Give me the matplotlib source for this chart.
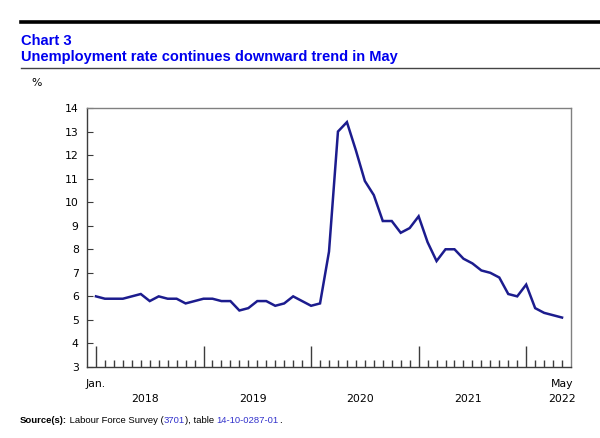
import matplotlib
matplotlib.use("Agg")
import matplotlib.pyplot as plt
import matplotlib.transforms as mtransforms
from matplotlib.lines import Line2D
import numpy as np

# monthly unemployment rate, Jan. 2018 to May 2022 (%)
rate_2018 = [6.0, 5.9, 5.9, 5.9, 6.0, 6.1, 5.8, 6.0, 5.9, 5.9, 5.7, 5.8]
rate_2019 = [5.9, 5.9, 5.8, 5.8, 5.4, 5.5, 5.8, 5.8, 5.6, 5.7, 6.0, 5.8]
rate_2020 = [5.6, 5.7, 7.9, 13.0, 13.4, 12.2, 10.9, 10.3, 9.2, 9.2, 8.7, 8.9]
rate_2021 = [9.4, 8.3, 7.5, 8.0, 8.0, 7.6, 7.4, 7.1, 7.0, 6.8, 6.1, 6.0]
rate_2022 = [6.5, 5.5, 5.3, 5.2, 5.1]
years = ["2018", "2019", "2020", "2021", "2022"]

rates = rate_2018 + rate_2019 + rate_2020 + rate_2021 + rate_2022
months = np.arange(len(rates))

line_col = "#1c1c8e"
blue = "#0000ee"
link_blue = "#3333cc"
frame_col = "#808080"
tick_col = "#3c3c3c"
tick_font = "DejaVu Sans"
head_font = "Liberation Sans"

fig = plt.figure(figsize=(6, 4.38), dpi=100)
ax = fig.add_axes([87 / 600, 1 - 367 / 438, (571 - 87) / 600, (367 - 108) / 438])

ax.plot(months, rates, color=line_col, lw=1.8, solid_joinstyle="miter")

ax.set_xlim(-1, len(rates))
ax.set_ylim(3, 14)
ax.set_yticks(range(3, 15))
ax.tick_params(axis="y", direction="in", length=4, color=tick_col,
               labelsize=7.8, pad=6)
for lab in ax.get_yticklabels():
    lab.set_family(tick_font)

# long ticks at each January, short ones for the other months
jan = months[::12]
ax.set_xticks(jan)
ax.set_xticklabels([])
ax.set_xticks([m for m in months if m % 12], minor=True)
ax.tick_params(axis="x", which="major", direction="in", length=15,
               color=tick_col, width=1.0)
ax.tick_params(axis="x", which="minor", direction="in", length=5,
               color=tick_col, width=1.0)

for s in ax.spines.values():
    s.set_color(frame_col)
    s.set_linewidth(1.0)
ax.spines["bottom"].set_color(tick_col)
ax.spines["left"].set_color(tick_col)

trans = mtransforms.blended_transform_factory(ax.transData, ax.transAxes)
ax.text(0, -0.065, "Jan.", transform=trans, ha="center", va="center",
        fontsize=7.8, family=tick_font)
ax.text(months[-1], -0.065, "May", transform=trans, ha="center", va="center",
        fontsize=7.8, family=tick_font)
for i, y in enumerate(years[:-1]):
    ax.text(12 * i + 6 - 0.5, -0.122, y, transform=trans, ha="center",
            va="center", fontsize=7.8, family=tick_font)
ax.text(months[-1], -0.122, years[-1], transform=trans, ha="center",
        va="center", fontsize=7.8, family=tick_font)

# header
fig.add_artist(Line2D([21 / 600, 1], [1 - 22 / 438] * 2, color="black",
                      lw=2.6, transform=fig.transFigure))
fig.add_artist(Line2D([21 / 600, 1], [1 - 67.5 / 438] * 2, color="#444444",
                      lw=1.0, transform=fig.transFigure))
fig.text(21 / 600, 1 - 41 / 438, "Chart 3", ha="left", va="center",
         fontsize=10.6, fontweight="bold", color=blue, family=head_font)
fig.text(21 / 600, 1 - 56.5 / 438,
         "Unemployment rate continues downward trend in May", ha="left",
         va="center", fontsize=10.5, fontweight="bold", color=blue,
         family=head_font)
fig.text(37 / 600, 1 - 83 / 438, "%", ha="center", va="center",
         fontsize=7.8, family=tick_font)

# source line, each piece placed right after the one before, same baseline
src_y = 1 - 423 / 438
pieces = [("Source(s):", "black", "bold"),
          (" Labour Force Survey (", "black", "normal"),
          ("3701", link_blue, "normal"),
          ("), table ", "black", "normal"),
          ("14-10-0287-01", link_blue, "normal"),
          (".", "black", "normal")]
renderer = fig.canvas.get_renderer()
x = 20 / 600
for txt, col, wt in pieces:
    t = fig.text(x, src_y, txt, ha="left", va="baseline", fontsize=6.8,
                 fontweight=wt, family=head_font, color=col)
    x += t.get_window_extent(renderer).width / fig.bbox.width

fig.savefig("out.png", dpi=100)
